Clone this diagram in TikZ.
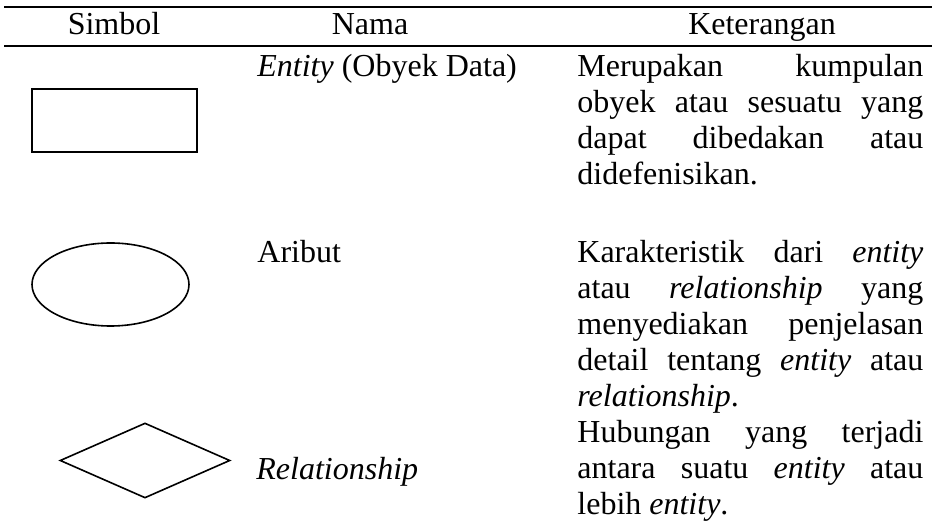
\documentclass[tikz,border=0pt]{standalone}
\usepackage{fontspec}
\setmainfont{Liberation Serif}
\usetikzlibrary{shapes.geometric}
\tolerance=10000
\hbadness=10000
\hyphenpenalty=10000

\tikzset{
  txt/.style={inner sep=0pt, font=\fontsize{16}{18}\selectfont},
  head/.style={txt, anchor=base},
  nama/.style={txt, anchor=base west},
  ket/.style={txt, anchor=base west, text width=173pt, align=justify},
  sym/.style={draw, line width=0.8pt, inner sep=0pt},
  garis/.style={line width=1.2pt}
}

\begin{document}
\begin{tikzpicture}[x=0.5pt, y=-0.5pt]
\useasboundingbox (0,0) rectangle (932,523);

% garis tabel
\coordinate (atasL) at (4,7);
\coordinate (atasR) at (932,7);
\coordinate (tengahL) at (4,46);
\coordinate (tengahR) at (932,46);
\draw[garis] (atasL) -- (atasR);
\draw[garis] (tengahL) -- (tengahR);

% judul kolom
\node[head] (hSimbol) at (114,35) {Simbol};
\node[head] (hNama) at (370,35) {Nama};
\node[head] (hKet) at (762,35) {Keterangan};

% simbol
\node[sym, rectangle, line width=1pt, minimum width=82.5pt, minimum height=31.5pt] (entitas) at (114.5,120.5) {};
\node[sym, ellipse, minimum width=78.5pt, minimum height=41.5pt] (atribut) at (110.5,284.5) {};
\node[sym, diamond, minimum width=85pt, minimum height=37.5pt] (relasi) at (145,460.5) {};

% nama
\node[nama] (nEntitas) at (257,77) {\textit{Entity} (Obyek Data)};
\node[nama] (nAtribut) at (257,263) {Aribut};
\node[nama] (nRelasi) at (256,480) {\textit{Relationship}};

% keterangan
\node[ket] (kEntitas) at (577,77) {Merupakan kumpulan\linebreak obyek atau sesuatu yang\linebreak dapat dibedakan atau\linebreak didefenisikan.};
\node[ket] (kAtribut) at (577,263) {Karakteristik dari \textit{entity}\linebreak atau \textit{relationship} yang\linebreak menyediakan penjelasan\linebreak detail tentang \textit{entity} atau\linebreak \textit{relationship}.};
\node[ket] (kRelasi) at (577,443) {Hubungan yang terjadi\linebreak antara suatu \textit{entity} atau\linebreak lebih \textit{entity}.};
\end{tikzpicture}
\end{document}
